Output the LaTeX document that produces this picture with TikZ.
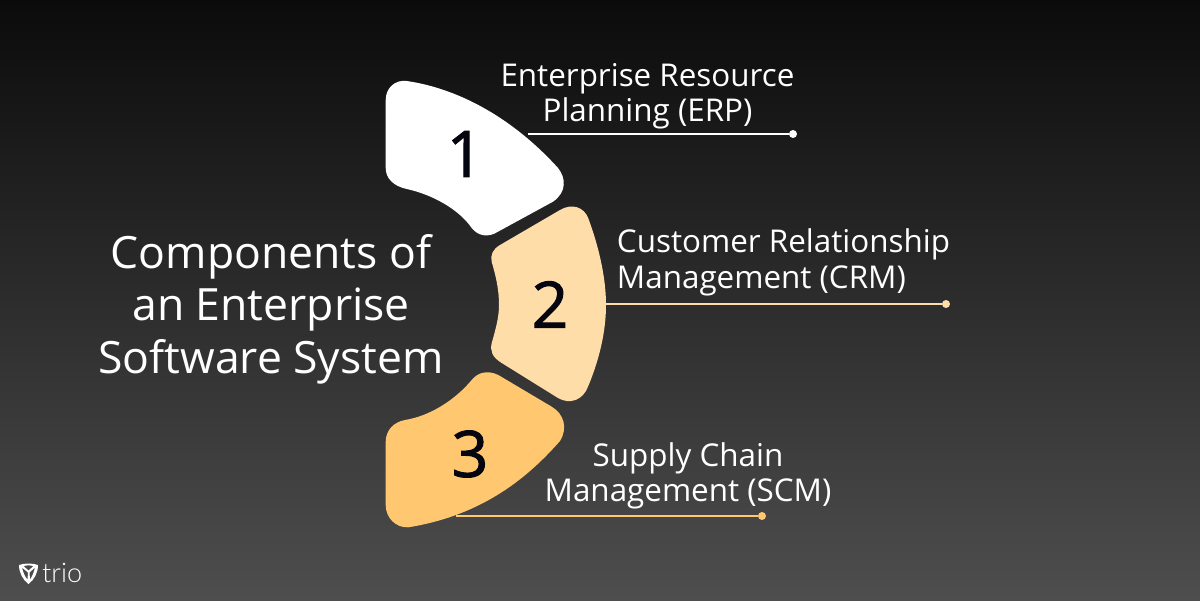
\documentclass[tikz,border=0pt]{standalone}
\usepackage{fontspec}
\setmainfont{Open Sans}
\newfontfamily\numfont[FakeBold=1.6]{Open Sans}
\newfontfamily\logofont{Lato Light}
\definecolor{bgtop}{HTML}{0B0B0B}
\definecolor{bgbot}{HTML}{4E4E4E}
\definecolor{segone}{HTML}{FFFFFF}
\definecolor{segtwo}{HTML}{FFDDA8}
\definecolor{segthree}{HTML}{FFC870}
\definecolor{numink}{HTML}{050510}
\tikzset{
  title/.style={text=white,font=\fontsize{44.5}{52.5}\selectfont,align=center,inner sep=0pt},
  label/.style={text=white,font=\fontsize{31.4}{35.5}\selectfont,inner sep=0pt},
  num/.style={text=numink,font=\numfont\fontsize{64}{64}\selectfont,inner sep=0pt},
  dot/.style={circle,fill=#1,inner sep=0pt,minimum size=8pt},
  lead/.style={draw=#1,line width=2pt},
}
\begin{document}
\begin{tikzpicture}[x=1pt,y=-1pt]
\useasboundingbox (0,0) rectangle (1200,601);
\shade[top color=bgtop,bottom color=bgbot] (0,0) rectangle (1200,601);
% leaders
\coordinate (s1) at (528,134);
\coordinate (s2) at (605,304);
\coordinate (s3) at (456,516);
\node[dot=white] (d1) at (793,134) {};
\node[dot=segtwo] (d2) at (946,304) {};
\node[dot=segthree] (d3) at (762,516) {};
\draw[lead=white] (s1) -- (d1);
\draw[lead=segtwo] (s2) -- (d2);
\draw[lead=segthree] (s3) -- (d3);
% segments
\fill[segone] (385.7,100) .. controls (385.7,88) and (395,79.5) .. (406.7,81)
  .. controls (455,88) and (510,115) .. (558,168)
  .. controls (566,178) and (567,192) .. (553,201.7)
  -- (498,231.7) .. controls (488,238) and (478,236) .. (471.7,228)
  .. controls (458,208) and (430,194) .. (406.7,189)
  .. controls (393,186) and (385.7,178) .. (385.7,168) -- cycle;
\fill[segtwo] (500,245) -- (560,210) .. controls (572,203) and (584,207) .. (588.3,218.3)
  .. controls (600,250) and (606,280) .. (606,305)
  .. controls (606,330) and (600,358) .. (588,386.7)
  .. controls (583,400) and (570,405) .. (558,398)
  -- (501.7,363) .. controls (492,357) and (490,351) .. (491.7,343)
  .. controls (497,325) and (499,315) .. (499,305)
  .. controls (499,292) and (497,280) .. (491.7,262)
  .. controls (490,255) and (493,249) .. (500,245) -- cycle;
\fill[segthree] (498.3,375) -- (551.7,406.7) .. controls (564,414) and (568,428) .. (560,441)
  .. controls (530,475) and (485,515) .. (408.3,527.3)
  .. controls (396,528) and (385.7,518) .. (385.7,505)
  -- (385.7,441.7) .. controls (385.7,430) and (394,422) .. (405,420)
  .. controls (430,416) and (455,400) .. (471.7,380)
  .. controls (478,372) and (488,370) .. (498.3,375) -- cycle;
% numbers
\node[num] (n1) at (465,154) {1};
\node[num] (n2) at (550,304.5) {2};
\node[num] (n3) at (470,454) {3};
% texts
\node[title] (t) at (271,309) {Components of\\an Enterprise\\Software System};
\node[label,align=center] (l1) at (647.5,96.5) {Enterprise Resource\\Planning (ERP)};
\node[label,align=left] (l2) at (783.5,262.5) {Customer Relationship\\Management (CRM)};
\node[label,align=center] (l3) at (688,476) {Supply Chain\\Management (SCM)};
% logo
\fill[white,even odd rule] (19,565) .. controls (25,563) and (32,563) .. (38,565)
  .. controls (38,573) and (34,580) .. (28.5,584) .. controls (23,580) and (19,573) .. (19,565) -- cycle
  (22,567.5) -- (28,572.5) -- (27.5,579.5) .. controls (25,577) and (23,572) .. (22,567.5) -- cycle
  (35,567.5) -- (29.5,572.5) -- (30,579.5) .. controls (32,577) and (34,572) .. (35,567.5) -- cycle
  (23.5,566) .. controls (27,565) and (30,565) .. (33.5,566) -- (28.5,570.5) -- cycle;
\node[text=white,font=\logofont\fontsize{27}{27}\selectfont,inner sep=0pt,anchor=base west] (logo) at (42,582) {trio};
\end{tikzpicture}
\end{document}
